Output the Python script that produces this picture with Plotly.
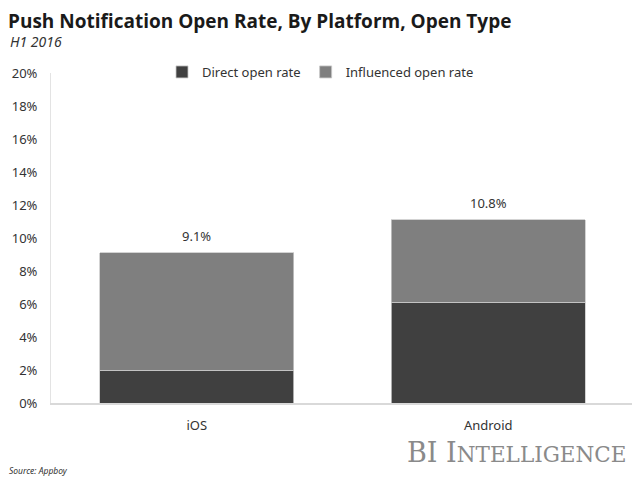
import plotly.graph_objects as go

platforms = ["iOS", "Android"]
direct_open = [2.0, 6.1]
influenced_open = [7.1, 5.0]
total_labels = ["9.1%", "10.8%"]
y_ticks = [0, 2, 4, 6, 8, 10, 12, 14, 16, 18, 20]
y_tick_text = [f"{v}%" for v in y_ticks]

totals = [d + i for d, i in zip(direct_open, influenced_open)]

# page body has an 8px margin: figure is drawn from (8, 8) in the screenshot
OFF = 8
W, H = 640 - OFF, 478 - OFF
# desired screen positions of plot area
SL, SR, ST, SB = 51, 634, 73, 403
L, R, T, B = SL - OFF, W - (SR - OFF), ST - OFF, H - (SB - OFF)
ph = H - T - B
pw = W - L - R

def py(screen_y):
    return (SB - screen_y) / ph

def px(screen_x):
    return (screen_x - SL) / pw

fig = go.Figure()
fig.add_trace(go.Bar(
    x=platforms, y=direct_open, name="Direct open rate",
    marker=dict(color="#404040", line=dict(color="#c8c8c8", width=0.8)),
))
fig.add_trace(go.Bar(
    x=platforms, y=influenced_open, name="Influenced open rate",
    marker=dict(color="#7f7f7f", line=dict(color="#c8c8c8", width=0.8)),
))

annotations = [
    dict(text="<i>H1 2016</i>", xref="paper", yref="paper",
         x=px(8), xanchor="left", y=py(42), yanchor="middle",
         showarrow=False, font=dict(size=14, color="#333333")),
    dict(text="<i>Source: Appboy</i>", xref="paper", yref="paper",
         x=px(7), xanchor="left", y=py(470), yanchor="middle",
         showarrow=False, font=dict(size=8.5, color="#333333")),
    dict(text="BI I<span style='font-size:21.5px'>NTELLIGENCE</span>",
         xref="paper", yref="paper",
         x=px(629), xanchor="right", y=py(452), yanchor="middle",
         showarrow=False,
         font=dict(family="DejaVu Serif, Liberation Serif, serif", size=27, color="#8a8a8a")),
]
for p, t, lab in zip(platforms, totals, total_labels):
    annotations.append(dict(
        text=lab, x=p, y=t, xref="x", yref="y", yanchor="bottom",
        yshift=6, showarrow=False,
        font=dict(family="Noto Sans, Open Sans, sans-serif", size=13, color="#333333"),
    ))

fig.update_layout(
    width=W, height=H,
    margin=dict(l=L, r=R, t=T, b=B, autoexpand=False),
    paper_bgcolor="white", plot_bgcolor="white",
    barmode="stack", bargap=0.333,
    font=dict(family="Noto Sans, Open Sans, sans-serif", color="#333333", size=13),
    title=dict(
        text="<b>Push Notification Open Rate, By Platform, Open Type</b>",
        x=0, xanchor="left", xref="container",
        y=1 - (21 - OFF) / H, yanchor="middle", yref="container",
        font=dict(family="Open Sans, Noto Sans, sans-serif", size=19, color="#1a1a1a"),
    ),
    legend=dict(
        orientation="h", x=px(162), xanchor="left",
        y=py(72), yanchor="middle", bgcolor="rgba(0,0,0,0)",
        font=dict(size=13, color="#333333"), traceorder="normal",
        itemwidth=30,
    ),
    xaxis=dict(
        showline=True, linecolor="#d9d9d9", linewidth=1.5,
        ticks="", tickfont=dict(size=13, color="#333333"),
        showgrid=False, ticklabelstandoff=10,
    ),
    yaxis=dict(
        range=[0, 20], tickvals=y_ticks, ticktext=y_tick_text,
        showgrid=False, showline=True, linecolor="#e3e3e3", linewidth=1,
        zeroline=False, ticks="", tickfont=dict(size=13, color="#333333"),
        ticklabelstandoff=10,
    ),
    annotations=annotations,
)

fig.write_html("out.html")
